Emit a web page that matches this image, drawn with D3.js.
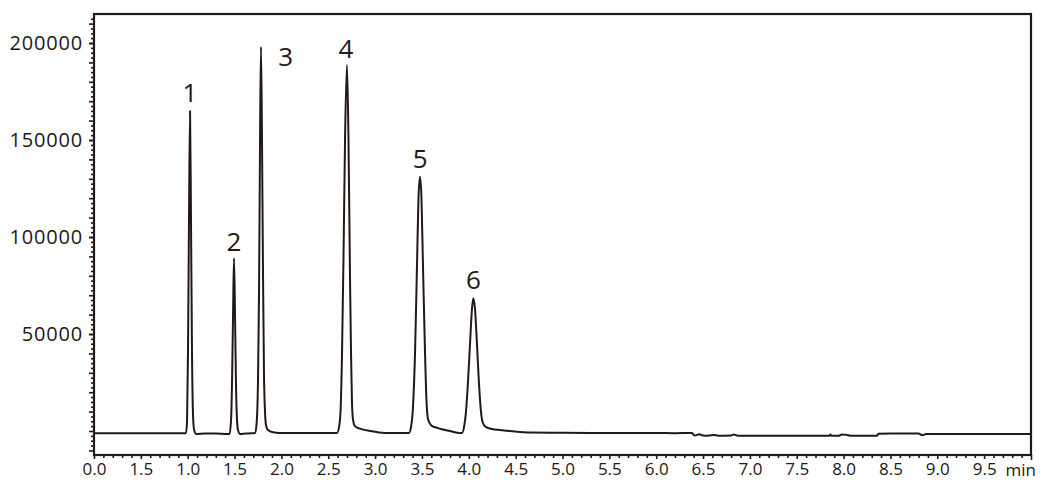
<!DOCTYPE html>
<html>
<head>
<meta charset="utf-8">
<script src="https://cdn.jsdelivr.net/npm/d3@7/dist/d3.min.js"></script>
<style>
  html, body { margin: 0; padding: 0; background: #fff; }
  svg { display: block; }
  text { font-family: "Open Sans", "Noto Sans", sans-serif; fill: #231815; }
</style>
</head>
<body>
<svg id="chart" width="1060" height="493"></svg>
<script>
// ---- data ----
const times = [
  0.00, 0.50, 0.90,
  0.982, 0.993, 1.003, 1.014, 1.025, 1.035, 1.046, 1.057, 1.067, 1.089, 1.185, 1.30, 1.42,
  1.446, 1.462, 1.473, 1.484, 1.494, 1.505, 1.515, 1.526, 1.537, 1.558, 1.62, 1.68,
  1.718, 1.734, 1.750, 1.761, 1.772, 1.782, 1.793, 1.804, 1.814, 1.825, 1.836, 1.857, 1.900, 1.985, 2.30, 2.55,
  2.593, 2.615, 2.631, 2.647, 2.663, 2.679, 2.700, 2.716, 2.732, 2.743, 2.753, 2.764, 2.785, 2.839, 2.946, 3.106, 3.30,
  3.362, 3.383, 3.404, 3.426, 3.447, 3.463, 3.479, 3.495, 3.511, 3.533, 3.549, 3.565, 3.597, 3.671, 3.799, 3.906,
  3.927, 3.949, 3.970, 3.991, 4.013, 4.034, 4.048, 4.066, 4.087, 4.108, 4.130, 4.151, 4.184, 4.248, 4.333, 4.440, 4.653,
  5.00, 5.50, 6.00, 6.20, 6.38, 6.40, 6.41, 6.46, 6.50, 6.55, 6.62, 6.66, 6.80, 6.83, 6.87,
  7.00, 7.50, 7.85, 7.86, 7.87, 7.95, 7.98, 8.03, 8.08, 8.357, 8.37, 8.50, 8.80, 8.84, 8.88, 9.00, 9.50, 9.99
];
const signal = [
  -1200, -1200, -1100,
  -1100, 5000, 40000, 110000, 165000, 110000, 40000, 8000, 1000, -1500, -1300, -1300, -1600,
  -1600, 5000, 25000, 60000, 89000, 60000, 25000, 6000, 500, -1500, -1300, -1200,
  -1000, 3000, 25000, 70000, 150000, 198000, 150000, 80000, 30000, 10000, 3000, 500, -500, -1000, -1000, -1000,
  -1000, 2000, 10000, 40000, 90000, 150000, 188600, 150000, 80000, 40000, 15000, 6000, 2500, 1200, 0, -1000, -1000,
  -1000, 2000, 12000, 40000, 85000, 120000, 131000, 120000, 85000, 40000, 15000, 6000, 3000, 1500, 0, -1000,
  -1000, 2000, 10000, 25000, 45000, 63000, 68400, 63000, 45000, 25000, 10000, 4000, 2000, 1000, 500, 0, -800,
  -900, -1000, -1000, -1100, -1000, -2000, -2300, -1700, -2300, -2400, -2000, -2400, -2300, -1800, -2400,
  -2500, -2500, -2500, -1800, -2500, -2500, -1800, -2000, -2500, -2500, -1400, -1300, -1300, -2200, -1600, -1500, -1500, -1500
];

const peakLabels = ["1", "2", "3", "4", "5", "6"];
const peakLabelTimes = [1.025, 1.494, 2.045, 2.69, 3.48, 4.05];
const peakLabelValues = [169500, 93000, 188000, 192500, 135500, 73000];

const xTickValues = [0.0, 0.5, 1.0, 1.5, 2.0, 2.5, 3.0, 3.5, 4.0, 4.5, 5.0, 5.5, 6.0, 6.5, 7.0, 7.5, 8.0, 8.5, 9.0, 9.5];
const xTickLabels = ["0.0", "1.5", "1.0", "1.5", "2.0", "2.5", "3.0", "3.5", "4.0", "4.5", "5.0", "5.5", "6.0", "6.5", "7.0", "7.5", "8.0", "8.5", "9.0", "9.5"];
const yTickValues = [50000, 100000, 150000, 200000];
const yTickLabels = ["50000", "100000", "150000", "200000"];
const xUnit = "min";

// ---- layout ----
const ink = "#231815";
const L = 94, R = 1031, T = 14, B = 455;
const svg = d3.select("#chart");

const x = d3.scaleLinear().domain([0, 10]).range([L, R]);
const y = d3.scaleLinear().domain([-12370, 214950]).range([B, T]);

// minor / medium ticks
const xMinor = d3.range(0, 100).map(i => i / 10).filter(v => Math.round(v * 10) % 5 !== 0);
const yMinor = d3.range(-10000, 215000, 2500).filter(v => v % 10000 !== 0);
const yMed = d3.range(-10000, 215000, 10000);

function axisG(axis) {
  const g = svg.append("g");
  g.call(axis);
  g.select(".domain").remove();
  g.selectAll("line").attr("stroke", ink).attr("stroke-width", 1.6);
  return g;
}

// x ticks
axisG(d3.axisBottom(x).tickValues(xMinor).tickSize(3).tickFormat(""))
  .attr("transform", `translate(0,${B})`);
const xg = axisG(d3.axisBottom(x).tickValues(xTickValues).tickSize(4)
  .tickFormat((d, i) => xTickLabels[i]).tickPadding(4))
  .attr("transform", `translate(0,${B})`);
xg.selectAll("text").attr("font-size", 17).attr("fill", ink)
  .attr("font-family", '"Open Sans", sans-serif');
axisG(d3.axisBottom(x).tickValues([10]).tickSize(5).tickFormat(""))
  .attr("transform", `translate(0,${B})`);

svg.append("text").attr("x", x(10) + 5).attr("y", B + 21)
  .attr("text-anchor", "end").attr("font-size", 17).text(xUnit);

// y ticks
axisG(d3.axisLeft(y).tickValues(yMinor).tickSize(3).tickFormat(""))
  .attr("transform", `translate(${L},0)`);
axisG(d3.axisLeft(y).tickValues(yMed).tickSize(5).tickFormat(""))
  .attr("transform", `translate(${L},0)`);
const yg = axisG(d3.axisLeft(y).tickValues(yTickValues).tickSize(5)
  .tickFormat((d, i) => yTickLabels[i]).tickPadding(6))
  .attr("transform", `translate(${L},0)`);
yg.selectAll("text").attr("font-size", 20).attr("fill", ink)
  .attr("letter-spacing", "0.8px")
  .attr("font-family", '"Open Sans", sans-serif');

// frame
svg.append("rect").attr("x", L).attr("y", T).attr("width", R - L).attr("height", B - T)
  .attr("fill", "none").attr("stroke", ink).attr("stroke-width", 2.2);

// trace
const pts = times.map((t, i) => [t, signal[i]]);
const line = d3.line().x(d => x(d[0])).y(d => y(d[1])).curve(d3.curveMonotoneX);
svg.append("path").datum(pts).attr("d", line)
  .attr("fill", "none").attr("stroke", ink).attr("stroke-width", 2)
  .attr("stroke-linejoin", "round");

// peak labels
svg.selectAll("text.peak").data(peakLabels).enter().append("text")
  .attr("class", "peak")
  .attr("x", (d, i) => x(peakLabelTimes[i]))
  .attr("y", (d, i) => y(peakLabelValues[i]))
  .attr("text-anchor", "middle").attr("font-size", 26)
  .text(d => d);
</script>
</body>
</html>
